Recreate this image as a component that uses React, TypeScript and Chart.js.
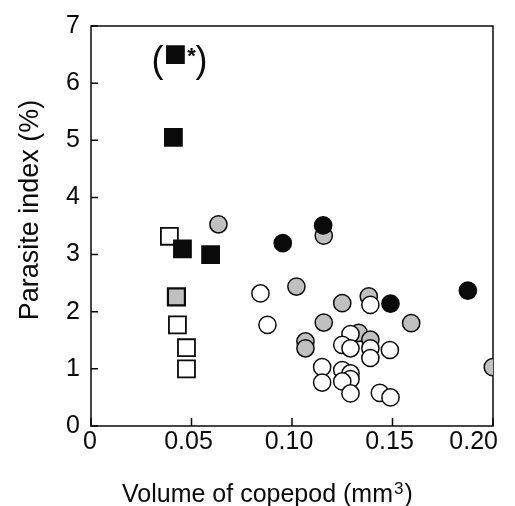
import { useEffect, useRef } from 'react';
import { Chart, registerables } from 'chart.js';

Chart.register(...registerables);

// ---- data ----
const xTickValues = [0, 0.05, 0.1, 0.15, 0.2];
const xTickLabels = ['0', '0.05', '0.10', '0.15', '0.20'];
const yTickValues = [0, 1, 2, 3, 4, 5, 6, 7];

const xTitle = 'Volume of copepod (mm';
const xTitleSup = '3';
const yTitle = 'Parasite index (%)';

const blackCirclesX = [0.1155, 0.0954, 0.149, 0.1875];
const blackCirclesY = [3.51, 3.2, 2.14, 2.37];

const grayCirclesX = [0.0634, 0.1158, 0.1022, 0.125, 0.1382, 0.1158, 0.1593, 0.1067, 0.1067, 0.1332, 0.139, 0.1999];
const grayCirclesY = [3.53, 3.33, 2.44, 2.15, 2.27, 1.81, 1.8, 1.48, 1.36, 1.63, 1.51, 1.03];

const openCirclesX = [0.139, 0.0843, 0.0878, 0.1291, 0.125, 0.1291, 0.139, 0.139, 0.1487, 0.115, 0.115, 0.125, 0.1291, 0.1291, 0.125, 0.1291, 0.1437, 0.149];
const openCirclesY = [2.12, 2.32, 1.77, 1.61, 1.42, 1.36, 1.36, 1.19, 1.33, 1.03, 0.76, 0.98, 0.92, 0.82, 0.78, 0.57, 0.58, 0.5];

const blackSquaresX = [0.041, 0.0455, 0.0595];
const blackSquaresY = [5.05, 3.1, 3.0];

const openSquaresX = [0.039, 0.043, 0.0475, 0.0475];
const openSquaresY = [3.32, 1.77, 1.37, 1.0];

const graySquaresX = [0.0425];
const graySquaresY = [2.26];

const offScaleX = [0.042];
const offScaleY = [6.5];

const zip = (xs: number[], ys: number[]) => xs.map((x, i) => ({ x, y: ys[i] }));

const FONT = '"Liberation Sans", Arial, Helvetica, sans-serif';
const INK = '#0a0a0a';
const GRAY = '#c0c0c0';

const decorPlugin = {
  id: 'decor',
  beforeDatasetsDraw(chart: any) {
    const { ctx, chartArea: a, scales } = chart;
    ctx.save();
    ctx.strokeStyle = INK;
    ctx.lineWidth = 1.5;
    ctx.strokeRect(a.left, a.top, a.right - a.left, a.bottom - a.top);
    ctx.beginPath();
    xTickValues.forEach((v) => {
      const px = scales.x.getPixelForValue(v);
      ctx.moveTo(px, a.bottom);
      ctx.lineTo(px, a.bottom - 8);
    });
    yTickValues.forEach((v) => {
      const py = scales.y.getPixelForValue(v);
      ctx.moveTo(a.left, py);
      ctx.lineTo(a.left + 7, py);
    });
    ctx.stroke();
    ctx.restore();
  },
  afterDraw(chart: any) {
    const { ctx, chartArea: a, scales } = chart;
    ctx.save();
    ctx.fillStyle = INK;
    // x tick labels
    ctx.font = `25px ${FONT}`;
    ctx.textBaseline = 'alphabetic';
    xTickValues.forEach((v, i) => {
      const px = scales.x.getPixelForValue(v);
      if (i === xTickValues.length - 1) {
        ctx.textAlign = 'right';
        ctx.fillText(xTickLabels[i], px + 5, a.bottom + 23);
      } else {
        ctx.textAlign = 'center';
        ctx.fillText(xTickLabels[i], px - (i === 0 ? 1 : 3), a.bottom + 23);
      }
    });
    // x title
    ctx.textAlign = 'left';
    ctx.font = `25px ${FONT}`;
    const tx = 122;
    const ty = 502;
    ctx.fillText(xTitle, tx, ty);
    const w = ctx.measureText(xTitle).width;
    ctx.font = `17px ${FONT}`;
    ctx.fillText(xTitleSup, tx + w + 1, ty - 8);
    const w2 = ctx.measureText(xTitleSup).width;
    ctx.font = `25px ${FONT}`;
    ctx.fillText(')', tx + w + 2 + w2, ty);
    // y title
    ctx.save();
    ctx.translate(38, 210);
    ctx.rotate(-Math.PI / 2);
    ctx.textAlign = 'center';
    ctx.font = `27px ${FONT}`;
    ctx.fillText(yTitle, 0, 0);
    ctx.restore();
    // off-scale annotation
    const ox = scales.x.getPixelForValue(offScaleX[0]);
    const oy = scales.y.getPixelForValue(offScaleY[0]);
    ctx.textAlign = 'center';
    ctx.font = `36px ${FONT}`;
    ctx.fillText('(', ox - 18, oy + 17);
    ctx.fillText(')', ox + 26, oy + 17);
    ctx.font = `bold 22px ${FONT}`;
    ctx.fillText('*', ox + 16, oy + 8);
    ctx.restore();
  },
};

export default function App() {
  const ref = useRef<HTMLCanvasElement | null>(null);
  useEffect(() => {
    document.body.style.margin = '0';
    const canvas = ref.current;
    if (!canvas) return;
    const circle = { pointStyle: 'circle', pointRadius: 8.6, pointBorderWidth: 1.5, showLine: false };
    const square = { pointStyle: 'rect', pointRadius: 12, pointBorderWidth: 1.8, showLine: false };
    const chart = new Chart(canvas, {
      type: 'scatter',
      data: {
        datasets: [
          { label: 'black circles', data: zip(blackCirclesX, blackCirclesY), ...circle, pointBackgroundColor: INK, pointBorderColor: INK },
          { label: 'black squares', data: zip(blackSquaresX, blackSquaresY), ...square, pointBackgroundColor: INK, pointBorderColor: INK },
          { label: 'off scale', data: zip(offScaleX, offScaleY), ...square, pointBackgroundColor: INK, pointBorderColor: INK },
          { label: 'open circles', data: zip(openCirclesX, openCirclesY), ...circle, pointBackgroundColor: '#ffffff', pointBorderColor: INK },
          { label: 'open squares', data: zip(openSquaresX, openSquaresY), ...square, pointBackgroundColor: '#ffffff', pointBorderColor: INK },
          { label: 'gray circles', data: zip(grayCirclesX, grayCirclesY), ...circle, pointBackgroundColor: GRAY, pointBorderColor: INK },
          { label: 'gray squares', data: zip(graySquaresX, graySquaresY), ...square, pointBorderWidth: 2.2, pointBackgroundColor: GRAY, pointBorderColor: INK },
        ] as any,
      },
      options: {
        animation: false,
        responsive: false,
        events: [],
        layout: { padding: { top: 26, right: 22, left: 0, bottom: 0 } },
        plugins: { legend: { display: false }, tooltip: { enabled: false } },
        scales: {
          x: {
            type: 'linear',
            min: 0,
            max: 0.2,
            grid: { display: false, drawTicks: false },
            border: { display: false },
            ticks: { display: false, stepSize: 0.05 },
            afterFit: (s: any) => { s.height = 80; },
          },
          y: {
            type: 'linear',
            min: 0,
            max: 7,
            grid: { display: false, drawTicks: false },
            border: { display: false },
            ticks: { stepSize: 1, padding: 11, color: INK, font: { family: FONT, size: 25 } },
            afterFit: (s: any) => { s.width = 91; },
          },
        },
      } as any,
      plugins: [decorPlugin],
    });
    return () => chart.destroy();
  }, []);
  return (
    <div style={{ width: 515, height: 506 }}>
      <canvas ref={ref} width={515} height={506} />
    </div>
  );
}
